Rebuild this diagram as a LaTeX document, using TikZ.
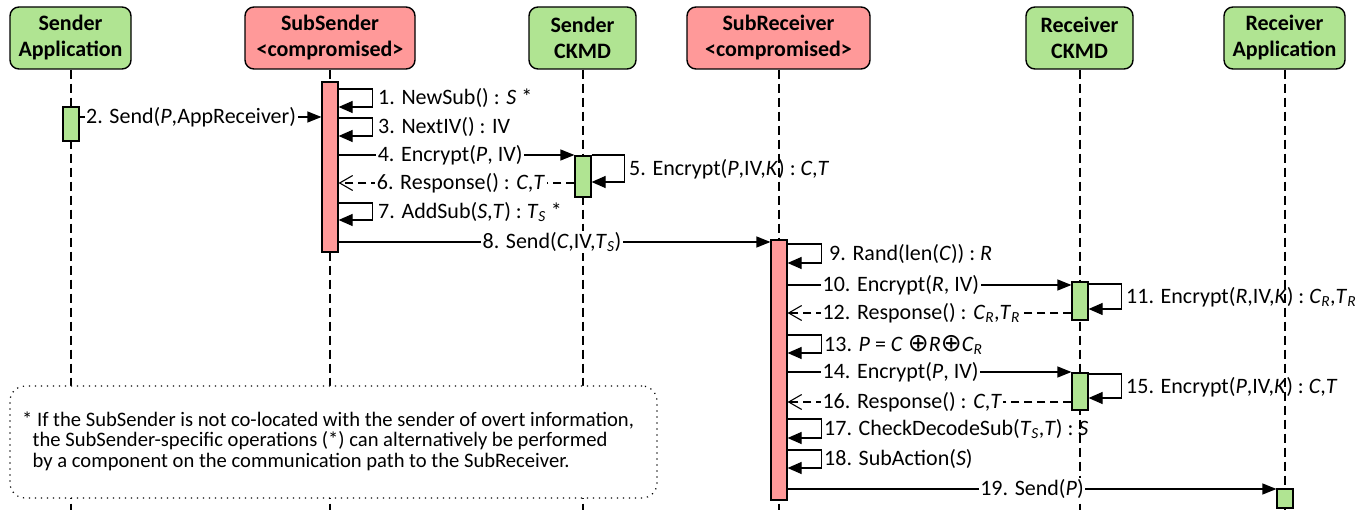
\documentclass[tikz,border=0pt]{standalone}
\usepackage{fontspec}
\setmainfont{Carlito}
\newfontfamily\opfont{DejaVu Sans}
\usetikzlibrary{arrows.meta,calc}
\definecolor{appgreen}{RGB}{176,228,146}
\definecolor{subred}{RGB}{255,153,153}
\newcommand\diafont{\fontsize{22pt}{26pt}\selectfont}
\newcommand\notefont{\fontsize{20.6pt}{20.5pt}\selectfont}
\newcommand\oplussign{\raisebox{-0.5pt}{\opfont\fontsize{25pt}{26pt}\selectfont ⊕}}
\begin{document}
\begin{tikzpicture}[x=1pt,y=-1pt,
  head/.style={draw, line width=1.4pt, rounded corners=9pt, align=center,
    font=\diafont\bfseries, inner sep=0pt, minimum height=62pt},
  life/.style={line width=1.1pt, dash pattern=on 9pt off 5pt},
  actbar/.style={draw, line width=1.2pt, minimum width=16pt, inner sep=0pt},
  call/.style={line width=1.2pt, -{Triangle[length=14pt,width=11pt]}},
  selfcall/.style={line width=1.2pt, -{Triangle[length=14pt,width=12pt]}},
  reply/.style={line width=1.1pt, dash pattern=on 8pt off 5pt,
    -{Straight Barb[length=13pt,width=15pt,line width=1.1pt]}},
  lbl/.style={fill=white, inner sep=1.5pt, font=\diafont},
  looplbl/.style={anchor=west, inner sep=0pt, font=\diafont},
  notebox/.style={draw, fill=white, rounded corners=15pt, line width=1.2pt,
    dash pattern=on 1.2pt off 4.8pt}]
\useasboundingbox (0,0) rectangle (1366,510);

% headers
\node[head, fill=appgreen, minimum width=121pt] (sa) at (70.5,38) {Sender\\Application};
\node[head, fill=subred, minimum width=170pt] (ss) at (330,38) {SubSender\\<compromised>};
\node[head, fill=appgreen, minimum width=107pt] (sc) at (582.5,38) {Sender\\CKMD};
\node[head, fill=subred, minimum width=183pt] (sr) at (778.5,38) {SubReceiver\\<compromised>};
\node[head, fill=appgreen, minimum width=107pt] (rc) at (1079.5,38) {Receiver\\CKMD};
\node[head, fill=appgreen, minimum width=121pt] (ra) at (1284.5,38) {Receiver\\Application};

% lifeline ends
\coordinate (saend) at (71,510);
\coordinate (ssend) at (330,510);
\coordinate (scend) at (583,510);
\coordinate (srend) at (779,510);
\coordinate (rcend) at (1080,510);
\coordinate (raend) at (1285,510);
\draw[life] (sa.south -| saend) -- (saend);
\draw[life] (ss.south -| ssend) -- (ssend);
\draw[life] (sc.south -| scend) -- (scend);
\draw[life] (sr.south -| srend) -- (srend);
\draw[life] (rc.south -| rcend) -- (rcend);
\draw[life] (ra.south -| raend) -- (raend);

% activation bars
\node[actbar, fill=appgreen, minimum height=34pt] (sabar) at (71,124) {};
\node[actbar, fill=subred, minimum height=170pt] (ssbar) at (330,167) {};
\node[actbar, fill=appgreen, minimum height=41pt] (scbar) at (583,176.5) {};
\node[actbar, fill=subred, minimum height=260pt] (srbar) at (779,370) {};
\node[actbar, fill=appgreen, minimum height=38pt] (rcbarA) at (1080,301) {};
\node[actbar, fill=appgreen, minimum height=37pt] (rcbarB) at (1080,391.5) {};
\node[actbar, fill=appgreen, minimum height=19pt] (rabar) at (1285,498.5) {};

% note
\node[notebox, minimum width=647pt, minimum height=112pt] (note) at (333.5,442) {};
\node[anchor=west, inner sep=0pt, align=left, font=\notefont] (notetext) at (22,441)
  {* If the SubSender is not co-located with the sender of overt information,\\
   \hspace*{10.5pt}the SubSender-specific operations (*) can alternatively be performed\\
   \hspace*{10.5pt}by a component on the communication path to the SubReceiver.};

% y levels
\coordinate (y89) at (0,89);   \coordinate (y107) at (0,107);
\coordinate (y117) at (0,117);
\coordinate (y118) at (0,118); \coordinate (y136) at (0,136);
\coordinate (y155) at (0,155); \coordinate (y182) at (0,182);
\coordinate (y183) at (0,183);
\coordinate (y203) at (0,203); \coordinate (y220) at (0,220);
\coordinate (y242) at (0,242);
\coordinate (y244) at (0,244); \coordinate (y263) at (0,263);
\coordinate (y285) at (0,285);
\coordinate (y284) at (0,284); \coordinate (y309) at (0,309);
\coordinate (y313) at (0,313);
\coordinate (y335) at (0,335); \coordinate (y353) at (0,353);
\coordinate (y372) at (0,372);
\coordinate (y374) at (0,374); \coordinate (y398) at (0,398);
\coordinate (y402) at (0,402);
\coordinate (y419) at (0,419); \coordinate (y438) at (0,438);
\coordinate (y450) at (0,450); \coordinate (y468) at (0,468);
\coordinate (y489) at (0,489);

% messages
\draw[selfcall] (ssbar.east |- y89) -- ++(34,0) |- (ssbar.east |- y107);
\node[looplbl] (t1) at (378,98) {1. NewSub() : \textit{S} *};

\draw[call] (sabar.east |- y117) -- node[lbl, pos=0.461] (t2) {2. Send(\textit{P},AppReceiver)} (ssbar.west |- y117);

\draw[selfcall] (ssbar.east |- y118) -- ++(34,0) |- (ssbar.east |- y136);
\node[looplbl] (t3) at (378,127) {3. NextIV() : IV};

\draw[call] (ssbar.east |- y155) -- node[lbl, pos=0.473] (t4) {4. Encrypt(\textit{P}, IV)} (scbar.west |- y155);

\draw[selfcall] (scbar.east |- y155) -- ++(33,0) |- (scbar.east |- y182);
\node[looplbl] (t5) at (629,169) {5. Encrypt(\textit{P},IV,\textit{K}) : \textit{C},\textit{T}};

\draw[reply] (scbar.west |- y183) -- node[lbl, pos=0.481] (t6) {6. Response() : \textit{C},\textit{T}} (ssbar.east |- y183);

\draw[selfcall] (ssbar.east |- y203) -- ++(34,0) |- (ssbar.east |- y220);
\node[looplbl] (t7) at (378,212) {7. AddSub(\textit{S},\textit{T}) : \textit{T}\textsubscript{\textit{S}} *};

\draw[call] (ssbar.east |- y242) -- node[lbl, pos=0.494] (t8) {8. Send(\textit{C},IV,\textit{T}\textsubscript{\textit{S}})} (srbar.west |- y242);

\draw[selfcall] (srbar.east |- y244) -- ++(34,0) |- (srbar.east |- y263);
\node[looplbl] (t9) at (829,254) {9. Rand(len(\textit{C})) : \textit{R}};

\draw[call] (srbar.east |- y285) -- node[lbl, pos=0.116, anchor=west] (t10) {10. Encrypt(\textit{R}, IV)} (rcbarA.west |- y285);

\draw[selfcall] (rcbarA.east |- y284) -- ++(33,0) |- (rcbarA.east |- y309);
\node[looplbl] (t11) at (1126,297) {11. Encrypt(\textit{R},IV,\textit{K}) : \textit{C}\textsubscript{\textit{R}},\textit{T}\textsubscript{\textit{R}}};

\draw[reply] (rcbarA.west |- y313) -- node[lbl, pos=0.884, anchor=west] (t12) {12. Response() : \textit{C}\textsubscript{\textit{R}},\textit{T}\textsubscript{\textit{R}}} (srbar.east |- y313);

\draw[selfcall] (srbar.east |- y335) -- ++(34,0) |- (srbar.east |- y353);
\node[looplbl] (t13) at (824,345) {13. \textit{P} = \textit{C} \oplussign\textit{R}\oplussign\textit{C}\textsubscript{\textit{R}}};

\draw[call] (srbar.east |- y372) -- node[lbl, pos=0.116, anchor=west] (t14) {14. Encrypt(\textit{P}, IV)} (rcbarB.west |- y372);

\draw[selfcall] (rcbarB.east |- y374) -- ++(33,0) |- (rcbarB.east |- y398);
\node[looplbl] (t15) at (1126,387) {15. Encrypt(\textit{P},IV,\textit{K}) : \textit{C},\textit{T}};

\draw[reply] (rcbarB.west |- y402) -- node[lbl, pos=0.884, anchor=west] (t16) {16. Response() : \textit{C},\textit{T}} (srbar.east |- y402);

\draw[selfcall] (srbar.east |- y419) -- ++(34,0) |- (srbar.east |- y438);
\node[looplbl] (t17) at (824,429) {17. CheckDecodeSub(\textit{T}\textsubscript{\textit{S}},\textit{T}) : \textit{S}};

\draw[selfcall] (srbar.east |- y450) -- ++(34,0) |- (srbar.east |- y468);
\node[looplbl] (t18) at (824,459) {18. SubAction(\textit{S})};

\draw[call] (srbar.east |- y489) -- node[lbl, pos=0.5] (t19) {19. Send(\textit{P})} (rabar.west |- y489);
\end{tikzpicture}
\end{document}
